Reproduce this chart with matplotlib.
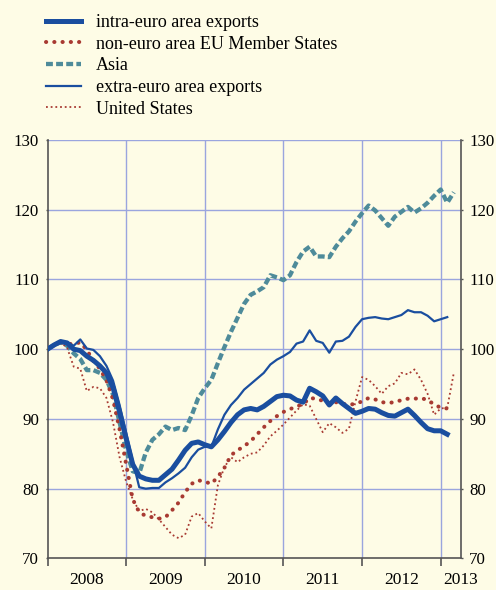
import numpy as np
import matplotlib.pyplot as plt
from matplotlib.ticker import FixedLocator

plt.rcParams['font.family'] = ['Liberation Serif', 'DejaVu Serif']

# monthly indices, January 2008 = 100
intra_euro = [100.0, 100.6, 101.1, 100.9, 100.0, 99.8, 99.0, 98.4, 97.6, 96.6, 94.5, 91.0,
              87.2, 83.5, 81.8, 81.4, 81.2, 81.2, 82.0, 82.8, 84.1, 85.5, 86.5, 86.7,
              86.3, 86.0, 87.0, 88.2, 89.5, 90.6, 91.3, 91.5, 91.3, 91.8, 92.5, 93.2,
              93.4, 93.3, 92.7, 92.4, 94.4, 93.9, 93.3, 92.0, 93.0, 92.2, 91.5, 90.8,
              91.1, 91.5, 91.4, 90.9, 90.5, 90.4, 90.9, 91.4, 90.5, 89.5, 88.6, 88.3,
              88.3, 87.8]
non_euro_eu = [100.0, 100.6, 101.0, 100.8, 100.7, 101.0, 99.9, 98.3, 97.2, 95.5, 92.8, 88.5,
               83.5, 78.5, 76.6, 76.1, 75.9, 75.7, 75.9, 76.9, 78.0, 79.5, 80.7, 81.2,
               81.0, 80.7, 81.7, 83.0, 84.8, 85.5, 86.1, 86.8, 87.8, 88.8, 89.7, 90.4,
               91.0, 91.4, 91.8, 92.1, 93.0, 92.9, 92.6, 92.1, 92.4, 92.2, 92.0, 92.2,
               92.5, 93.0, 92.8, 92.4, 92.3, 92.4, 92.7, 92.9, 92.9, 93.0, 92.7, 92.1,
               91.6, 91.5]
asia = [100.0, 100.6, 101.0, 100.5, 99.4, 98.6, 97.0, 97.0, 96.6, 95.6, 93.5, 89.5,
        85.5, 82.5, 82.2, 85.2, 87.0, 87.8, 88.9, 88.4, 88.7, 88.4, 90.5, 93.0,
        94.4, 95.6, 98.0, 100.3, 102.5, 104.5, 106.5, 107.8, 108.3, 108.9, 110.6, 110.3,
        109.9, 110.6, 112.5, 114.0, 114.7, 113.3, 113.3, 113.2, 114.7, 115.9, 116.9, 118.3,
        119.5, 120.6, 119.9, 118.8, 117.7, 119.0, 119.7, 120.4, 119.6, 120.2, 121.0, 122.0,
        122.9, 121.0, 122.5]
extra_euro = [100.0, 100.7, 101.2, 100.9, 100.5, 101.4, 100.1, 99.9, 99.0, 97.6, 95.5, 92.0,
              88.0, 84.0, 80.2, 80.0, 80.1, 80.1, 80.9, 81.5, 82.2, 83.0, 84.5, 85.6,
              86.0, 86.0, 88.5, 90.6, 92.0, 93.0, 94.2, 95.0, 95.8, 96.6, 97.8, 98.5,
              99.0, 99.6, 100.8, 101.1, 102.7, 101.2, 100.9, 99.5, 101.1, 101.2, 101.8, 103.2,
              104.3, 104.5, 104.6, 104.4, 104.3, 104.6, 104.9, 105.6, 105.3, 105.3, 104.8, 104.0,
              104.3, 104.6]
united_states = [100.0, 100.6, 101.0, 100.2, 97.5, 97.2, 94.0, 94.6, 94.4, 93.0, 89.5, 84.5,
                 81.0, 78.5, 76.8, 77.1, 76.6, 75.6, 74.5, 73.4, 72.9, 73.4, 76.0, 76.5,
                 75.3, 74.3, 80.5, 83.1, 84.5, 83.8, 84.5, 85.0, 85.2, 86.2, 87.5, 88.3,
                 89.2, 90.2, 91.2, 92.1, 91.9, 90.0, 88.1, 89.4, 88.8, 88.0, 88.6, 92.5,
                 96.0, 95.6, 94.7, 93.6, 94.7, 95.1, 96.6, 96.4, 97.1, 95.6, 93.6, 90.6,
                 91.5, 91.6, 96.6]

years = [2008, 2009, 2010, 2011, 2012, 2013]
y_ticks = [70, 80, 90, 100, 110, 120, 130]

bg = '#FEFCE6'
blue = '#1A4E9F'
red = '#A83A32'
teal = '#4E8B9A'
grid_col = '#9AA5DE'
axis_col = '#555555'


def months(series):
    return 2008 + np.arange(len(series)) / 12


fig = plt.figure(figsize=(4.96, 5.90), dpi=100, facecolor=bg)
ax = fig.add_axes([47.5 / 496, 31.6 / 590, 413.5 / 496, 418.4 / 590], facecolor=bg)

ax.plot(months(intra_euro), intra_euro, color=blue, lw=3.6,
        solid_joinstyle='round', label='intra-euro area exports', zorder=5)
ax.plot(months(non_euro_eu), non_euro_eu, color=red, lw=2.9,
        dashes=(0.05, 2.0), dash_capstyle='round', label='non-euro area EU Member States', zorder=4)
ax.plot(months(asia), asia, color=teal, lw=3.1, dashes=(1.6, 0.75),
        label='Asia', zorder=3)
ax.plot(months(extra_euro), extra_euro, color=blue, lw=1.6,
        label='extra-euro area exports', zorder=4)
ax.plot(months(united_states), united_states, color=red, lw=1.3,
        dashes=(1, 1.6), label='United States', zorder=3)

x_end = 2013 + 20.3 / 78.64
ax.set_xlim(2008, x_end)
ax.set_ylim(70, 130)

# grid: year boundaries and every 10 index points
for yr in years[1:]:
    ax.axvline(yr, color=grid_col, lw=1.0, zorder=1)
for v in y_ticks[1:]:
    ax.axhline(v, color=grid_col, lw=1.0, zorder=1)

ax.spines['top'].set_visible(False)
for side in ['left', 'right', 'bottom']:
    ax.spines[side].set_color(axis_col)
    ax.spines[side].set_linewidth(1.2)

ax.set_yticks(y_ticks)
ax.tick_params(axis='y', which='both', labelsize=12.2, length=1.5, width=1,
               color=axis_col, pad=4.5, left=True, right=True,
               labelleft=True, labelright=True)

# year boundaries as ticks, year names centred in between
ax.xaxis.set_major_locator(FixedLocator(years))
ax.xaxis.set_major_formatter(plt.NullFormatter())
ax.tick_params(axis='x', which='major', length=6, width=1.2, color=axis_col, direction='out')
mids = [y + 0.5 for y in years[:-1]] + [x_end]
ax.xaxis.set_minor_locator(FixedLocator(mids))
ax.set_xticklabels([str(y) for y in years], minor=True)
ax.tick_params(axis='x', which='minor', length=0, labelsize=12.5, pad=10)

fig.legend(loc='upper left', bbox_to_anchor=(46 / 496, 1 - 14 / 590),
           frameon=False, fontsize=13, handlelength=1.95, handletextpad=0.8,
           labelspacing=0.26, borderpad=0, borderaxespad=0)

fig.savefig('out.png', dpi=100, facecolor=bg)
